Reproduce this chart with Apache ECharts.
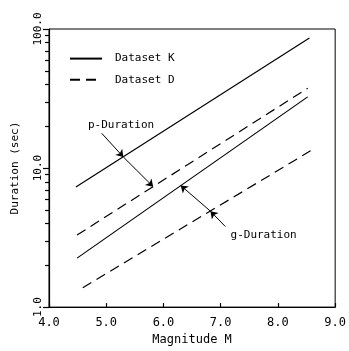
<!DOCTYPE html>
<html>
<head>
<meta charset="utf-8">
<script src="https://cdn.jsdelivr.net/npm/echarts@6/dist/echarts.min.js"></script>
<style>
  html, body { margin: 0; padding: 0; background: #fff; }
  #chart { width: 349px; height: 351px; }
</style>
</head>
<body>
<div id="chart"></div>
<script>
// line endpoints [magnitude, duration sec]
const pDurationK = [[4.47, 7.3], [8.55, 86]];
const pDurationD = [[4.49, 3.3], [8.52, 37.5]];
const gDurationK = [[4.49, 2.25], [8.52, 32.5]];
const gDurationD = [[4.59, 1.38], [8.57, 13.3]];

// minor log ticks on the duration axis
const minorTicks = [2, 3, 4, 5, 6, 7, 8, 9, 20, 30, 40, 50, 60, 70, 80, 90];

// annotation arrows (start, hit on solid, hit on dashed)
const pArrow = [[4.92, 17.8], [5.30, 12.0], [5.82, 7.35]];
const gArrow = [[7.08, 3.8], [6.82, 4.9], [6.30, 7.5]];
const pLabel = [5.26, 20.3];
const gLabel = [7.75, 3.28];

const FONT = 'DejaVu Sans Mono';
const chart = echarts.init(document.getElementById('chart'));

const arrowSeg = (a, b, sym) => [
  { coord: a, symbol: 'none' },
  { coord: b, symbol: sym }
];

const option = {
  animation: false,
  backgroundColor: '#fff',
  textStyle: { fontFamily: FONT, color: '#000' },
  grid: {
    left: 49, right: 11, top: 29, bottom: 39,
    show: true, borderColor: '#000', borderWidth: 1
  },
  legend: {
    orient: 'vertical',
    left: 64, top: 48,
    itemWidth: 32, itemHeight: 14, itemGap: 10,
    data: ['Dataset K', 'Dataset D'],
    itemStyle: { opacity: 0 },
    textStyle: { fontFamily: FONT, fontSize: 11, color: '#000', padding: [0, 0, 0, 8] },
    selectedMode: false
  },
  xAxis: {
    type: 'value',
    min: 4, max: 9, interval: 1,
    name: 'Magnitude M',
    nameLocation: 'middle',
    nameGap: 26,
    nameTextStyle: { fontFamily: FONT, fontSize: 12, color: '#000' },
    axisLine: { lineStyle: { color: '#000', width: 1.2 } },
    axisTick: { inside: true, length: 4, lineStyle: { color: '#000', width: 1.2 } },
    axisLabel: {
      fontFamily: FONT, fontSize: 12, color: '#000', margin: 10,
      formatter: v => v.toFixed(1)
    },
    splitLine: { show: false }
  },
  yAxis: {
    type: 'log',
    logBase: 10,
    min: 1, max: 100,
    name: 'Duration (sec)',
    nameLocation: 'middle',
    nameGap: 28,
    nameRotate: 90,
    nameTextStyle: { fontFamily: FONT, fontSize: 11, color: '#000' },
    axisLine: { lineStyle: { color: '#000', width: 1.2 } },
    axisTick: { inside: false, length: 6, lineStyle: { color: '#000', width: 1.2 } },
    axisLabel: {
      fontFamily: FONT, fontSize: 11, color: '#000', margin: 5, rotate: 90,
      formatter: v => v.toFixed(1)
    },
    splitLine: { show: false }
  },
  series: [
    {
      name: 'Dataset K', type: 'line', data: pDurationK,
      symbol: 'none', lineStyle: { color: '#000', width: 1.2 },
      itemStyle: { color: '#000' },
      markLine: {
        silent: true,
        symbolSize: 7,
        label: { show: false },
        lineStyle: { color: '#000', width: 1, type: 'solid' },
        data: [
          arrowSeg(pArrow[0], pArrow[1], 'arrow'),
          arrowSeg(pArrow[1], pArrow[2], 'arrow'),
          arrowSeg(gArrow[0], gArrow[1], 'arrow'),
          arrowSeg(gArrow[1], gArrow[2], 'arrow')
        ]
      },
      markPoint: {
        silent: true,
        symbol: 'circle', symbolSize: 0,
        label: {
          show: true, position: 'inside', color: '#000',
          fontFamily: FONT, fontSize: 11,
          formatter: p => p.name
        },
        data: [
          { name: 'p-Duration', coord: pLabel },
          { name: 'g-Duration', coord: gLabel }
        ]
      }
    },
    {
      name: 'Dataset K', type: 'line', data: gDurationK,
      symbol: 'none', lineStyle: { color: '#000', width: 1.2 },
      itemStyle: { color: '#000' }
    },
    {
      name: 'Dataset D', type: 'line', data: pDurationD,
      symbol: 'none', lineStyle: { color: '#000', width: 1.2, type: [10, 6] },
      itemStyle: { color: '#000' }
    },
    {
      name: 'Dataset D', type: 'line', data: gDurationD,
      symbol: 'none', lineStyle: { color: '#000', width: 1.2, type: [10, 6] },
      itemStyle: { color: '#000' }
    },
    {
      // minor log ticks on the y axis
      type: 'custom',
      coordinateSystem: 'cartesian2d',
      silent: true,
      clip: false,
      z: 5,
      data: minorTicks.map(v => [4, v]),
      renderItem: (params, api) => {
        const p = api.coord([api.value(0), api.value(1)]);
        const y = Math.round(p[1]) + 0.5;
        return {
          type: 'line',
          shape: { x1: p[0] - 4, y1: y, x2: p[0] + 1, y2: y },
          style: { stroke: '#000', lineWidth: 1.2 }
        };
      }
    }
  ]
};

chart.setOption(option);
</script>
</body>
</html>
